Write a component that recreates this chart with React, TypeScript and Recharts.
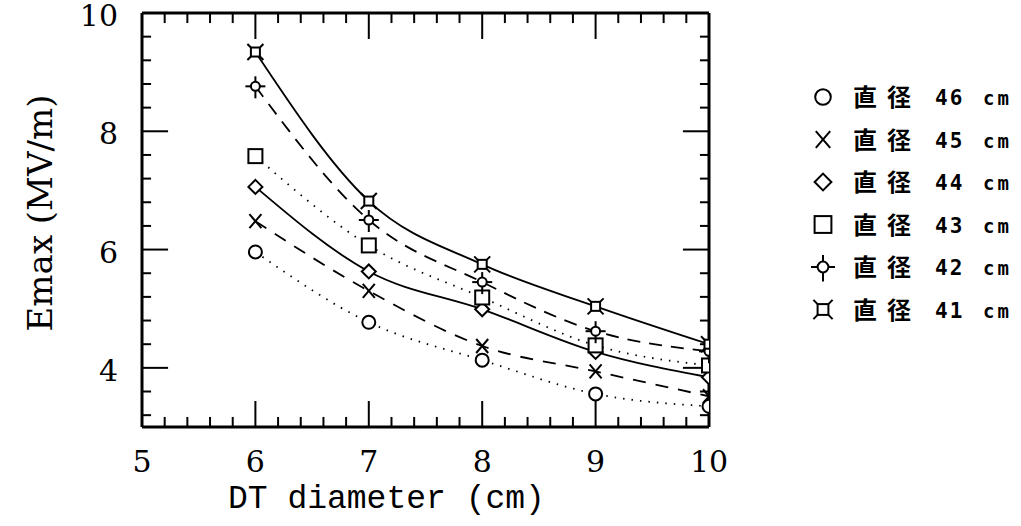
import React from 'react';
import { ComposedChart, Line, Scatter, XAxis, YAxis, ReferenceLine } from 'recharts';

const diameters = [6, 7, 8, 9, 10];

const emax46 = [5.96, 4.77, 4.13, 3.56, 3.35];
const emax45 = [6.48, 5.3, 4.37, 3.94, 3.52];
const emax44 = [7.06, 5.63, 4.99, 4.27, 3.84];
const emax43 = [7.58, 6.07, 5.19, 4.38, 4.04];
const emax42 = [8.76, 6.5, 5.45, 4.62, 4.28];
const emax41 = [9.34, 6.82, 5.75, 5.04, 4.4];

const xTicks = [
  5, 5.2, 5.4, 5.6, 5.8, 6, 6.2, 6.4, 6.6, 6.8, 7, 7.2, 7.4, 7.6, 7.8, 8, 8.2, 8.4, 8.6, 8.8, 9, 9.2,
  9.4, 9.6, 9.8, 10,
];
const yTicks = [3.2, 3.6, 4, 4.4, 4.8, 5.2, 5.6, 6, 6.4, 6.8, 7.2, 7.6, 8, 8.4, 8.8, 9.2, 9.6, 10];
const yLabels = [4, 6, 8, 10];
const yMajor = [4, 6, 8];

type Kind = 'circle' | 'cross' | 'diamond' | 'square' | 'pin' | 'star';

const series: { key: string; size: string; values: number[]; kind: Kind; dash?: string }[] = [
  { key: 'd46', size: '46', values: emax46, kind: 'circle', dash: '1.5 7' },
  { key: 'd45', size: '45', values: emax45, kind: 'cross', dash: '13 10' },
  { key: 'd44', size: '44', values: emax44, kind: 'diamond' },
  { key: 'd43', size: '43', values: emax43, kind: 'square', dash: '1.5 7' },
  { key: 'd42', size: '42', values: emax42, kind: 'pin', dash: '13 9' },
  { key: 'd41', size: '41', values: emax41, kind: 'star' },
];

const data = diameters.map((d, i) => {
  const row: Record<string, number> = { d };
  series.forEach((s) => {
    row[s.key] = s.values[i];
  });
  return row;
});

const X0 = 5;
const X1 = 10;
const Y0 = 3;
const Y1 = 10;
// tick lengths in data units (inward ticks, plotter style)
const xTickLong = 0.44;
const xTickShort = 0.17;
const yTickLong = 0.23;
const yTickShort = 0.08;

const serif = '"DejaVu Serif", serif';

function Marker({ cx, cy, kind, s = 1 }: { cx: number; cy: number; kind: Kind; s?: number }) {
  const p = { stroke: 'black', strokeWidth: 2, fill: 'white' };
  switch (kind) {
    case 'circle':
      return <circle cx={cx} cy={cy} r={6.5 * s} {...p} />;
    case 'cross':
      return (
        <g stroke="black" strokeWidth={2}>
          <line x1={cx - 6 * s} y1={cy - 7 * s} x2={cx + 6 * s} y2={cy + 7 * s} />
          <line x1={cx + 6 * s} y1={cy - 7 * s} x2={cx - 6 * s} y2={cy + 7 * s} />
        </g>
      );
    case 'diamond':
      return (
        <polygon
          points={`${cx},${cy - 7 * s} ${cx + 7 * s},${cy} ${cx},${cy + 7 * s} ${cx - 7 * s},${cy}`}
          {...p}
        />
      );
    case 'square':
      return <rect x={cx - 7 * s} y={cy - 7 * s} width={14 * s} height={14 * s} {...p} />;
    case 'pin':
      return (
        <g stroke="black" strokeWidth={2}>
          <circle cx={cx} cy={cy} r={4.5 * s} fill="white" />
          <line x1={cx - 10 * s} y1={cy} x2={cx - 4.5 * s} y2={cy} />
          <line x1={cx + 4.5 * s} y1={cy} x2={cx + 10 * s} y2={cy} />
          <line x1={cx} y1={cy - 10 * s} x2={cx} y2={cy - 4.5 * s} />
          <line x1={cx} y1={cy + 4.5 * s} x2={cx} y2={cy + 12 * s} />
        </g>
      );
    default:
      return (
        <g stroke="black" strokeWidth={2}>
          <rect x={cx - 4.5 * s} y={cy - 4.5 * s} width={9 * s} height={9 * s} fill="white" />
          <line x1={cx - 4.5 * s} y1={cy - 4.5 * s} x2={cx - 8 * s} y2={cy - 8 * s} />
          <line x1={cx + 4.5 * s} y1={cy - 4.5 * s} x2={cx + 8 * s} y2={cy - 8 * s} />
          <line x1={cx - 4.5 * s} y1={cy + 4.5 * s} x2={cx - 8 * s} y2={cy + 8 * s} />
          <line x1={cx + 4.5 * s} y1={cy + 4.5 * s} x2={cx + 8 * s} y2={cy + 8 * s} />
        </g>
      );
  }
}

const bt = ({ x, y, payload }: any) =>
  Number.isInteger(payload.value) ? (
    <text x={x} y={y + 45} textAnchor="middle" fontFamily={serif} fontSize={30} fill="black">
      {payload.value}
    </text>
  ) : (
    <g />
  );

const lt = ({ x, y, payload }: any) =>
  yLabels.includes(payload.value) ? (
    <text x={x - 24} y={y + 13} textAnchor="end" fontFamily={serif} fontSize={30} fill="black">
      {payload.value}
    </text>
  ) : (
    <g />
  );

function LegendBox() {
  return (
    <svg width={230} height={260} style={{ position: 'absolute', left: 791, top: 70 }}>
      {series.map((s, i) => {
        const cy = 27 + i * 42.5;
        return (
          <g key={s.key}>
            <Marker cx={32} cy={cy} kind={s.kind} s={1.2} />
            <text x={62} y={cy + 9} fontFamily='"Noto Sans CJK JP", sans-serif' fontWeight={700} fontSize={24} letterSpacing={10}>
              直径
            </text>
            <text x={144} y={cy + 8} fontFamily='"DejaVu Sans Mono", monospace' fontWeight={700} fontSize={21} letterSpacing={2}>
              {s.size}
            </text>
            <text x={192} y={cy + 8} fontFamily='"DejaVu Sans Mono", monospace' fontWeight={700} fontSize={19} letterSpacing={3}>
              cm
            </text>
          </g>
        );
      })}
    </svg>
  );
}

const frame = [
  [{ x: X0, y: Y0 }, { x: X1, y: Y0 }],
  [{ x: X0, y: Y1 }, { x: X1, y: Y1 }],
  [{ x: X0, y: Y0 }, { x: X0, y: Y1 }],
  [{ x: X1, y: Y0 }, { x: X1, y: Y1 }],
];

export default function App() {
  return (
    <div style={{ position: 'absolute', left: 0, top: 0, width: 1021, height: 526, background: '#fff' }}>
      <ComposedChart width={1021} height={526} data={data} margin={{ top: 13, right: 312, bottom: 98, left: 141 }}>
        <XAxis dataKey="d" type="number" domain={[X0, X1]} ticks={xTicks} interval={0} height={1} tickSize={0} tickMargin={0} tickLine={false} axisLine={false} tick={bt} allowDataOverflow />
        <YAxis type="number" domain={[Y0, Y1]} ticks={yTicks} interval={0} width={1} tickSize={0} tickMargin={0} tickLine={false} axisLine={false} tick={lt} allowDataOverflow />

        {frame.map((seg, i) => (
          <ReferenceLine key={`f${i}`} segment={seg} stroke="black" strokeWidth={3} ifOverflow="visible" />
        ))}
        {xTicks.map((v) => {
          const len = Number.isInteger(v) ? xTickLong : xTickShort;
          return [
            <ReferenceLine key={`xb${v}`} segment={[{ x: v, y: Y0 }, { x: v, y: Y0 + len }]} stroke="black" strokeWidth={2} ifOverflow="visible" />,
            <ReferenceLine key={`xt${v}`} segment={[{ x: v, y: Y1 }, { x: v, y: Y1 - len }]} stroke="black" strokeWidth={2} ifOverflow="visible" />,
          ];
        })}
        {yTicks.map((v) => {
          const len = yMajor.includes(v) ? yTickLong : yTickShort;
          return [
            <ReferenceLine key={`yl${v}`} segment={[{ x: X0, y: v }, { x: X0 + len, y: v }]} stroke="black" strokeWidth={2} ifOverflow="visible" />,
            <ReferenceLine key={`yr${v}`} segment={[{ x: X1, y: v }, { x: X1 - len, y: v }]} stroke="black" strokeWidth={2} ifOverflow="visible" />,
          ];
        })}

        {series.map((s) => (
          <Line
            key={s.key}
            dataKey={s.key}
            type="monotone"
            stroke="black"
            strokeWidth={1.8}
            strokeDasharray={s.dash}
            dot={false}
            activeDot={false}
            isAnimationActive={false}
          />
        ))}
        {series.map((s) => (
          <Scatter
            key={`${s.key}-pts`}
            dataKey={s.key}
            isAnimationActive={false}
            shape={(p: any) => <Marker cx={p.cx} cy={p.cy} kind={s.kind} />}
          />
        ))}
      </ComposedChart>
      <div
        style={{
          position: 'absolute',
          left: 40,
          top: 213,
          transform: 'translate(-50%, -50%) rotate(-90deg)',
          fontFamily: serif,
          fontSize: 34,
          lineHeight: '40px',
          whiteSpace: 'nowrap',
        }}
      >
        Emax (MV/m)
      </div>
      <div
        style={{
          position: 'absolute',
          left: 228,
          top: 480,
          fontFamily: '"Liberation Mono", monospace',
          fontSize: 33,
          whiteSpace: 'nowrap',
          lineHeight: '40px',
        }}
      >
        DT diameter (cm)
      </div>
      <LegendBox />
    </div>
  );
}
